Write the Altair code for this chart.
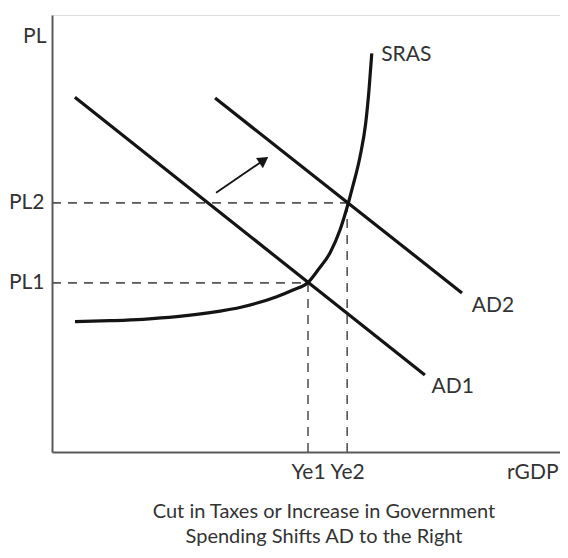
import altair as alt
import pandas as pd

FONT = "Lato, 'Liberation Sans Narrow', 'DejaVu Sans Condensed', sans-serif"
TXT = "#333333"
INK = "#141414"

# ---- data (x: rGDP units 0-10, y: price level units 0-10) ----
ad_names = ["AD1", "AD1", "AD2", "AD2"]
ad_x = [0.45, 7.34, 3.21, 8.07]
ad_y = [8.12, 1.76, 8.10, 3.64]

sras_x = [0.453, 1.142, 1.791, 2.455, 3.110, 3.760, 4.423, 4.744, 5.039, 5.236,
          5.472, 5.669, 5.833, 5.919, 6.063, 6.175, 6.240, 6.295]
sras_y = [2.982, 3.005, 3.037, 3.096, 3.188, 3.325, 3.554, 3.707, 3.879, 4.165,
          4.554, 5.080, 5.698, 6.071, 6.757, 7.522, 8.284, 9.120]

pl_labels = ["PL1", "PL2"]
pl_values = [3.87, 5.70]
ye_labels = ["Ye1", "Ye2"]
ye_values = [5.04, 5.81]

curve_labels = ["SRAS", "AD2", "AD1"]
label_x = [6.48, 8.68, 7.89]
label_y = [9.08, 3.34, 1.49]
label_align = ["left", "center", "center"]

arrow_x = [3.23, 4.17]
arrow_y = [5.93, 6.68]

title_lines = ["Cut in Taxes or Increase in Government", "Spending Shifts AD to the Right"]

# ---- tables ----
ad_df = pd.DataFrame({"curve": ad_names, "x": ad_x, "y": ad_y})
sras_df = pd.DataFrame({"x": sras_x, "y": sras_y})
guide_rows = []
for pl, ye in zip(pl_values, ye_values):
    guide_rows.append({"x": 0.0, "x2": ye, "y": pl, "y2": pl})
    guide_rows.append({"x": ye, "x2": ye, "y": 0.0, "y2": pl})
guide_df = pd.DataFrame(guide_rows)
label_df = pd.DataFrame({"text": curve_labels, "x": label_x, "y": label_y, "align": label_align})
arrow_df = pd.DataFrame({"x": arrow_x, "y": arrow_y})
head_df = arrow_df.tail(1)


def label_expr(values, labels):
    expr = "''"
    for v, l in zip(values, labels):
        expr = f"datum.value == {v} ? '{l}' : ({expr})"
    return expr


FS = 21
X_AX = alt.Axis(
    values=ye_values, labelExpr=label_expr(ye_values, ye_labels),
    title="rGDP", titleX=506, titleY=20, titleAlign="right", titleBaseline="middle",
    titleFont=FONT, titleFontSize=FS, titleFontWeight="normal", titleColor=TXT,
    labelFont=FONT, labelFontSize=FS, labelColor=TXT, labelBaseline="middle",
    labelPadding=20, labelFlush=False, labelOverlap=False,
    ticks=False, grid=False, domainColor="#5a5a5a", domainWidth=2,
)
Y_AX = alt.Axis(
    values=pl_values, labelExpr=label_expr(pl_values, pl_labels),
    title="PL", titleAngle=0, titleX=-6, titleY=21, titleAlign="right", titleBaseline="middle",
    titleFont=FONT, titleFontSize=FS, titleFontWeight="normal", titleColor=TXT,
    labelFont=FONT, labelFontSize=FS, labelColor=TXT, labelPadding=8,
    labelFlush=False, labelOverlap=False,
    ticks=False, grid=False, domainColor="#5a5a5a", domainWidth=2,
)
XS = alt.Scale(domain=[0, 10], nice=False, zero=False)
YS = alt.Scale(domain=[0, 10], nice=False, zero=False)


def X(f="x"):
    return alt.X(f"{f}:Q", scale=XS, axis=X_AX)


def Y(f="y"):
    return alt.Y(f"{f}:Q", scale=YS, axis=Y_AX)


guides = alt.Chart(guide_df).mark_rule(
    color="#555555", strokeWidth=1.6, strokeDash=[9, 7]
).encode(x=X(), x2="x2:Q", y=Y(), y2="y2:Q")

ad = alt.Chart(ad_df).mark_line(color=INK, strokeWidth=3.2).encode(
    x=X(), y=Y(), detail="curve:N"
)

sras = alt.Chart(sras_df).mark_line(
    color=INK, strokeWidth=3.2, interpolate="monotone"
).encode(x=X(), y=Y())

arrow = alt.Chart(arrow_df).mark_line(color=INK, strokeWidth=1.8).encode(x=X(), y=Y())
head = alt.Chart(head_df).mark_point(
    shape="triangle-up", filled=True, color=INK, opacity=1, size=150, angle=56
).encode(x=X(), y=Y())

labels_left = alt.Chart(label_df[label_df["align"] == "left"]).mark_text(
    font=FONT, fontSize=FS, color=TXT, align="left", baseline="middle"
).encode(x=X(), y=Y(), text="text:N")
labels_center = alt.Chart(label_df[label_df["align"] == "center"]).mark_text(
    font=FONT, fontSize=FS, color=TXT, align="center", baseline="middle"
).encode(x=X(), y=Y(), text="text:N")

chart = alt.layer(guides, ad, sras, arrow, head, labels_left, labels_center).properties(
    width=508,
    height=437,
    autosize=alt.AutoSizeParams(type="none"),
    padding={"left": 44, "top": 7, "right": 0, "bottom": 98},
    title=alt.TitleParams(
        text=title_lines, orient="bottom", anchor="middle", dx=18, offset=20,
        font=FONT, fontSize=20, fontWeight="normal", color=TXT, lineHeight=25,
    ),
).configure_view(stroke=None).configure(background="white")

chart.save("out.html", embed_options={"renderer": "svg", "actions": False})
